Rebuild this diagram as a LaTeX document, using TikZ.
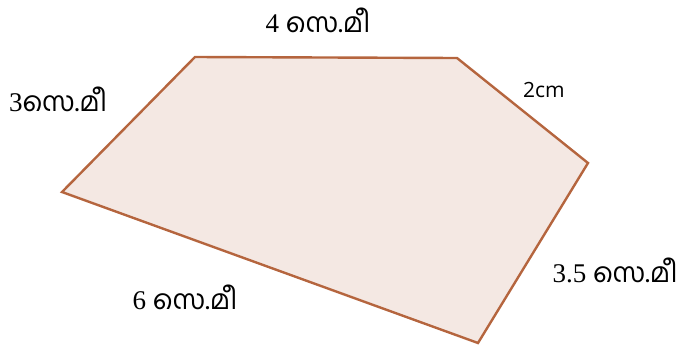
\documentclass[tikz,border=0pt]{standalone}
\usepackage{fontspec}
\setmainfont{Liberation Serif}
\newfontfamily\malfont[Script=Malayalam]{Hind Kochi}
\newfontfamily\latfont{Open Sans}
\definecolor{edgebrown}{HTML}{B5653E}
\definecolor{facepink}{HTML}{F4E8E3}
\tikzset{
  side/.style={draw=edgebrown,line width=2.4pt,fill=facepink,line join=miter},
  lbl/.style={font=\fontsize{27}{29}\selectfont,inner sep=0pt}
}
\begin{document}
\begin{tikzpicture}[x=1pt,y=-1pt]
\useasboundingbox (0,0) rectangle (681,349);
% corners of the figure
\coordinate (a) at (62,192);
\coordinate (b) at (195,57);
\coordinate (c) at (457,58);
\coordinate (d) at (588,163);
\coordinate (e) at (478,343);
\draw[side] (a) -- (b) -- (c) -- (d) -- (e) -- cycle;
% side lengths
\node[lbl] (top) at (318,20) {4 {\malfont സെ.മീ}};
\node[lbl] (left) at (58,99) {3{\malfont സെ.മീ}};
\node[font=\latfont\fontsize{21}{23}\selectfont,inner sep=0pt] (slant) at (544,90) {2cm};
\node[lbl] (right) at (615,270) {3.5 {\malfont സെ.മീ}};
\node[lbl] (bottom) at (185,297) {6 {\malfont സെ.മീ}};
\end{tikzpicture}
\end{document}
